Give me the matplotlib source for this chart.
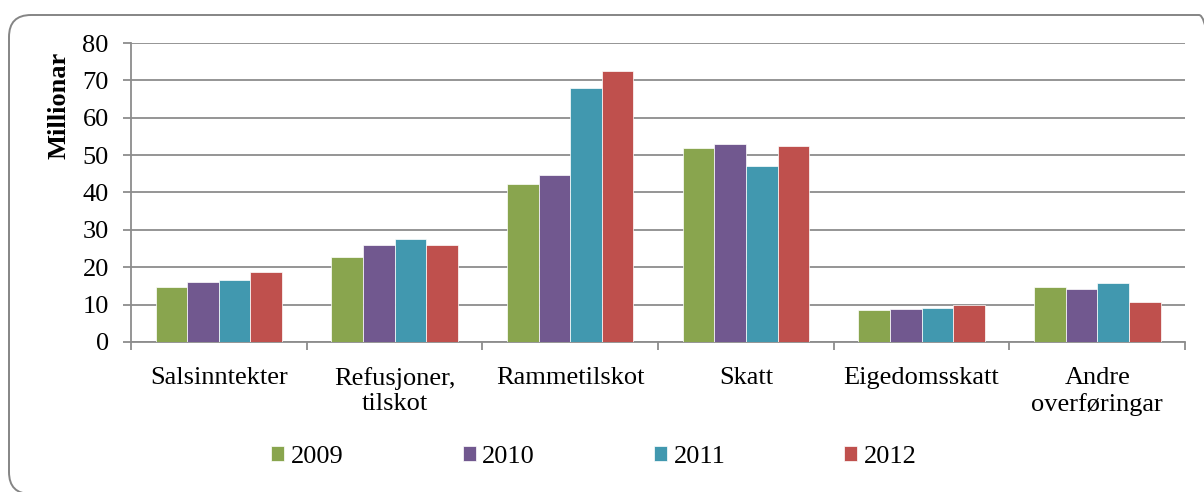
import numpy as np
from matplotlib import pyplot as plt
from matplotlib.patches import FancyBboxPatch

categories = ['Salsinntekter', 'Refusjoner,\ntilskot', 'Rammetilskot', 'Skatt',
              'Eigedomsskatt', 'Andre\noverføringar']
years = ['2009', '2010', '2011', '2012']
v2009 = [14.6, 22.6, 42.2, 52.0, 8.5, 14.7]
v2010 = [16.1, 25.9, 44.6, 53.1, 8.9, 14.1]
v2011 = [16.7, 27.5, 68.0, 47.2, 9.0, 15.7]
v2012 = [18.8, 25.9, 72.6, 52.4, 9.8, 10.8]
series = [v2009, v2010, v2011, v2012]
colors = ['#89A54E', '#71588F', '#4198AF', '#BF504D']

plt.rcParams['font.family'] = ['Liberation Serif', 'DejaVu Serif']
fs = 19

fig = plt.figure(figsize=(12.04, 4.92), dpi=100)
# outer chart border (pixel coordinates), runs off the right/bottom edge
frame = FancyBboxPatch((9, -2), 1212, 479, boxstyle='round,pad=0,rounding_size=22',
                       transform=None, facecolor='none', edgecolor='#858585',
                       linewidth=1.4, zorder=-5)
fig.patches.append(frame)

ax = fig.add_axes([0.1088, 0.305, 0.8755, 0.6076])
x = np.arange(len(categories))
w = 0.18
for i, (vals, c, lab) in enumerate(zip(series, colors, years)):
    ax.bar(x + (i - 1.5) * w, vals, width=w, color=c, label=lab, edgecolor='white',
           linewidth=0.5, zorder=3)

ax.set_xlim(-0.5, len(categories) - 0.5)
ax.set_ylim(0, 80)
ax.set_yticks(range(0, 81, 10))
ax.yaxis.grid(True, color='#8c8c8c', linewidth=1.3, zorder=0)
ax.set_axisbelow(True)

ax.set_xticks(np.arange(-0.5, len(categories), 1))
ax.set_xticklabels([])
ax.set_xticks(x, minor=True)
ax.set_xticklabels(categories, minor=True, fontsize=fs, linespacing=1.2)
ax.tick_params(axis='x', which='minor', length=0, pad=18)
ax.tick_params(axis='x', which='major', length=6, color='#8c8c8c', width=1.3)
ax.tick_params(axis='y', length=6, color='#8c8c8c', width=1.3, labelsize=fs, pad=10)

for s in ['top', 'right']:
    ax.spines[s].set_visible(False)
for s in ['left', 'bottom']:
    ax.spines[s].set_color('#8c8c8c')
    ax.spines[s].set_linewidth(1.3)

ax.set_ylabel('Millionar', fontsize=fs, fontweight='bold')
ax.yaxis.set_label_coords(-0.057, 0.79)

fig.legend(loc='center', bbox_to_anchor=(0.4934, 0.072), ncol=4, frameon=False,
           fontsize=fs, handlelength=0.5, handleheight=0.5, handletextpad=0.25,
           columnspacing=4.5)

fig.savefig('out.png', dpi=100)
